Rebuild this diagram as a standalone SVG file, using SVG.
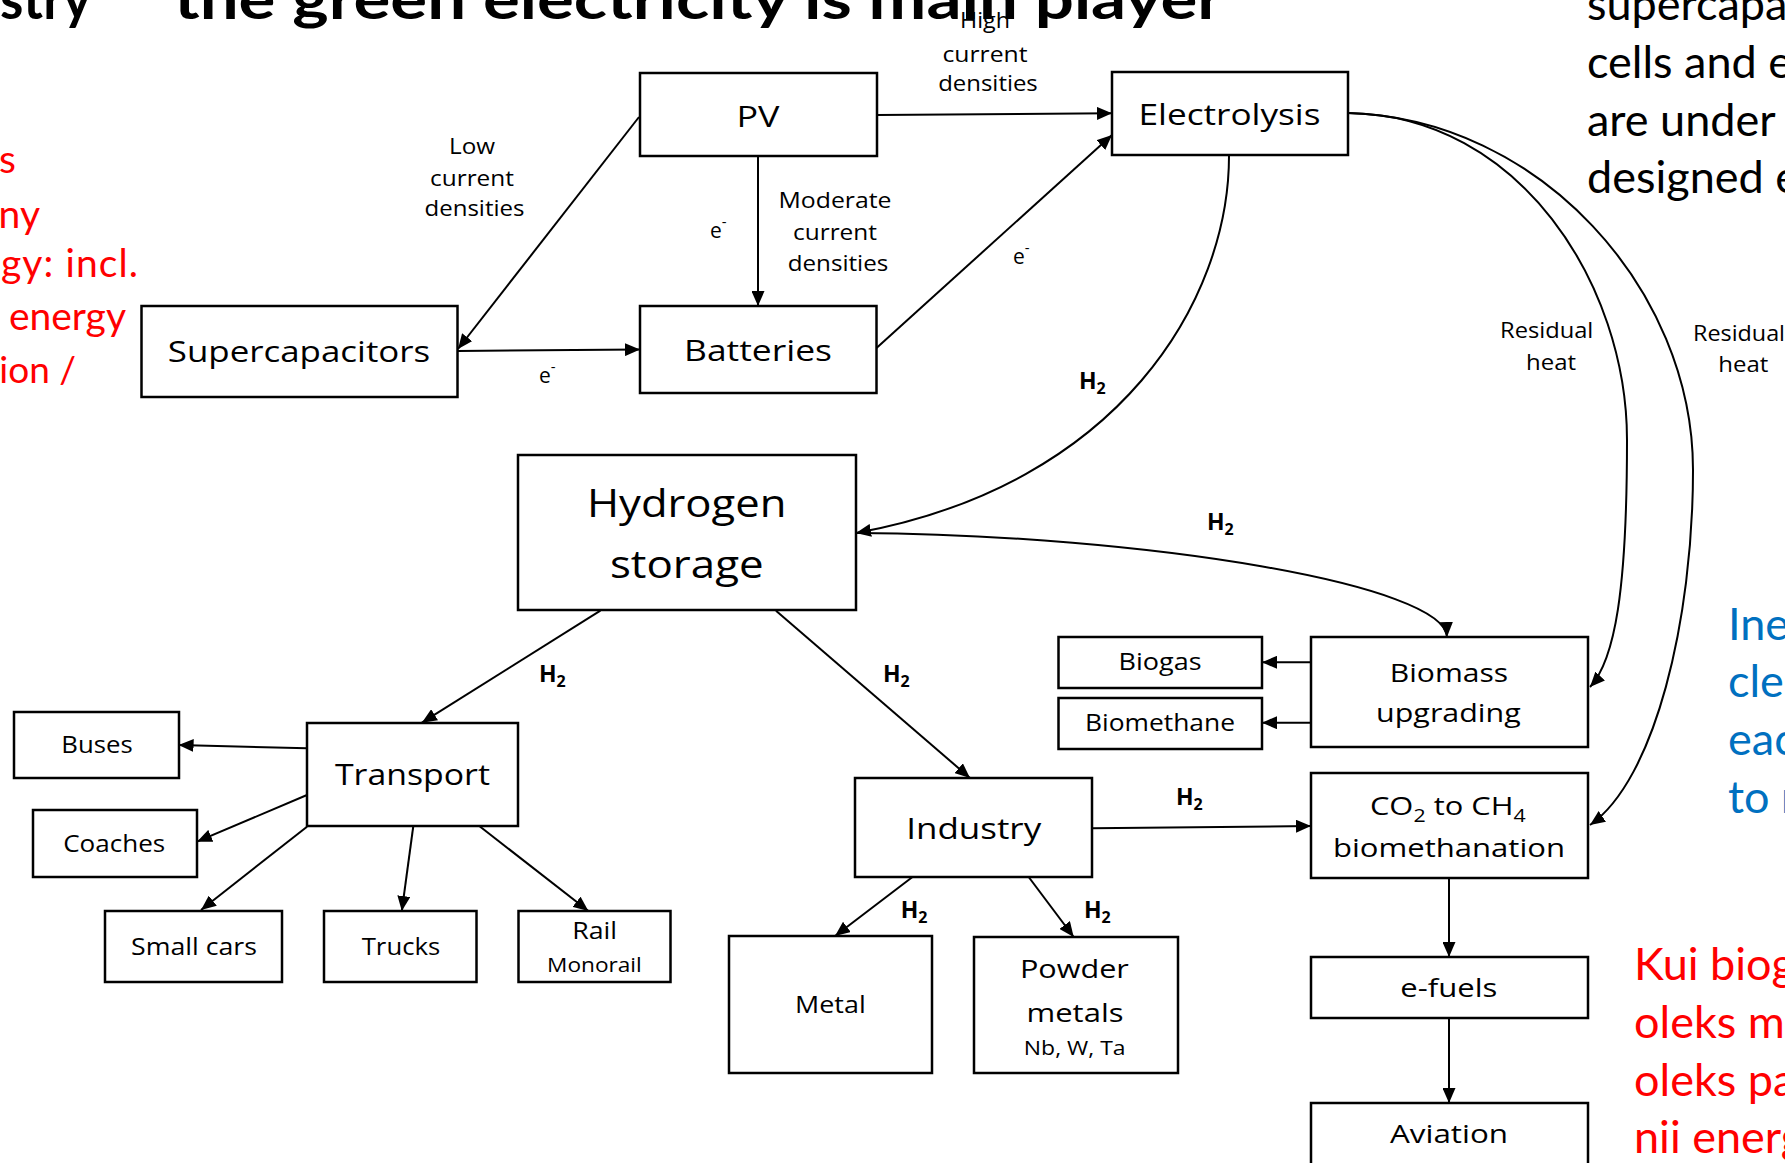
<svg xmlns="http://www.w3.org/2000/svg" width="1785" height="1163" viewBox="0 0 1785 1163">
<defs>
<style>
.box{fill:#fff;stroke:#000;stroke-width:2.5}
.ln{fill:none;stroke:#000;stroke-width:2}
.t{font-family:"Open Sans","Noto Sans",sans-serif;fill:#000;text-anchor:middle}
.f30{font-size:30px}.f26{font-size:26px}.f23{font-size:23px}.f20{font-size:20px}.f22{font-size:22px}.f39{font-size:39px}
.h2{font-family:"Open Sans","Noto Sans",sans-serif;font-weight:700;font-size:23px;fill:#000}
.el{font-family:"Open Sans","Noto Sans",sans-serif;font-size:21px;fill:#000}
.slide{font-family:Lato,"Liberation Sans",sans-serif;font-size:45px}
</style>
<marker id="ah" markerUnits="userSpaceOnUse" markerWidth="16" markerHeight="13" refX="15" refY="6.5" orient="auto" viewBox="0 0 16 13"><path d="M0,0 L15,6.5 L0,13 z" fill="#000"/></marker>
</defs>
<rect width="1785" height="1163" fill="#fff"/>

<g id="title">
<text x="0" y="19" font-family="Lato,'Liberation Sans',sans-serif" font-weight="700" font-size="56" textLength="91" lengthAdjust="spacingAndGlyphs">stry</text>
<text x="174" y="19" font-family="Lato,'Liberation Sans',sans-serif" font-weight="700" font-size="56" textLength="1049" lengthAdjust="spacingAndGlyphs">the green electricity is main player</text>
</g>

<g id="side-texts" class="slide">
<g fill="#FF0000" text-anchor="end" font-size="39">
<text x="16" y="173">s</text>
<text x="40" y="228">ny</text>
<text x="138" y="277" textLength="137" lengthAdjust="spacing">gy: incl.</text>
<text x="126" y="330">energy</text>
<text x="76" y="383" font-size="37">ion /</text>
</g>
<g fill="#000">
<text x="1587" y="20">supercapa</text>
<text x="1587" y="78">cells and e</text>
<text x="1587" y="136">are under</text>
<text x="1587" y="193">designed e</text>
</g>
<g fill="#0070C0">
<text x="1728" y="640">Ine</text>
<text x="1728" y="697">cle</text>
<text x="1728" y="755">eac</text>
<text x="1728" y="813">to r</text>
</g>
<g fill="#FF0000">
<text x="1634" y="980">Kui biog</text>
<text x="1634" y="1038">oleks m</text>
<text x="1634" y="1096">oleks pa</text>
<text x="1634" y="1153">nii energ</text>
</g>
</g>

<g id="connectors" class="ln">
<path d="M877,115 L1112,113.3" marker-end="url(#ah)"/>
<path d="M639,117 L458,349" marker-end="url(#ah)"/>
<path d="M457.6,351 L640,349.5" marker-end="url(#ah)"/>
<path d="M758,156 L758,306" marker-end="url(#ah)"/>
<path d="M876.5,348 L1112,135" marker-end="url(#ah)"/>
<path d="M1229,156 C1229,300 1120,485 856,533" marker-end="url(#ah)"/>
<path d="M857,533 C1150,535 1445,585 1447,637" marker-end="url(#ah)"/>
<path d="M1348,113 C1520,115 1627,285 1627,440 C1627,590 1615,660 1590,687" marker-end="url(#ah)"/>
<path d="M1348,113 C1540,118 1693,290 1693,470 C1693,620 1655,780 1590,825" marker-end="url(#ah)"/>
<path d="M600.4,610.7 L421.9,722.7" marker-end="url(#ah)"/>
<path d="M776,610.7 L970,778" marker-end="url(#ah)"/>
<path d="M307,748.3 L178.6,745" marker-end="url(#ah)"/>
<path d="M307,795 L197,841.7" marker-end="url(#ah)"/>
<path d="M307,826.7 L201,910" marker-end="url(#ah)"/>
<path d="M413.3,826 L401.8,911" marker-end="url(#ah)"/>
<path d="M479.3,826 L588.4,911" marker-end="url(#ah)"/>
<path d="M912.5,877 L835,936" marker-end="url(#ah)"/>
<path d="M1028.7,877 L1073.7,937" marker-end="url(#ah)"/>
<path d="M1092,828.3 L1311,826" marker-end="url(#ah)"/>
<path d="M1311,662.3 L1262,662.3" marker-end="url(#ah)"/>
<path d="M1311,722.7 L1262,722.7" marker-end="url(#ah)"/>
<path d="M1449,878 L1449,957" marker-end="url(#ah)"/>
<path d="M1449,1018 L1449,1103" marker-end="url(#ah)"/>
</g>

<g id="connector-labels">
<g class="t f22">
<text x="472" y="154" textLength="46" lengthAdjust="spacingAndGlyphs">Low</text>
<text x="472" y="186" textLength="84" lengthAdjust="spacingAndGlyphs">current</text>
<text x="474.5" y="216" textLength="100" lengthAdjust="spacingAndGlyphs">densities</text>
<text x="985" y="28.3" textLength="50" lengthAdjust="spacingAndGlyphs">High</text>
<text x="985" y="61.5" textLength="85" lengthAdjust="spacingAndGlyphs">current</text>
<text x="988" y="90.7" textLength="99.5" lengthAdjust="spacingAndGlyphs">densities</text>
<text x="835" y="208" textLength="113" lengthAdjust="spacingAndGlyphs">Moderate</text>
<text x="835" y="240" textLength="84" lengthAdjust="spacingAndGlyphs">current</text>
<text x="838" y="270.7" textLength="100.5" lengthAdjust="spacingAndGlyphs">densities</text>
<text x="1546.7" y="338.3" textLength="93.3" lengthAdjust="spacingAndGlyphs">Residual</text>
<text x="1551" y="370" textLength="50" lengthAdjust="spacingAndGlyphs">heat</text>
<text x="1739" y="340.7" textLength="92" lengthAdjust="spacingAndGlyphs">Residual</text>
<text x="1743.3" y="371.7" textLength="50" lengthAdjust="spacingAndGlyphs">heat</text>
</g>
<text class="el" x="710" y="238.3">e<tspan font-size="15" dy="-11">-</tspan></text>
<text class="el" x="1013" y="264">e<tspan font-size="15" dy="-11">-</tspan></text>
<text class="el" x="539" y="383">e<tspan font-size="15" dy="-11">-</tspan></text>
<text class="h2" x="1079" y="389">H<tspan font-size="16" dy="5">2</tspan></text>
<text class="h2" x="1207" y="530">H<tspan font-size="16" dy="5">2</tspan></text>
<text class="h2" x="539" y="681.7">H<tspan font-size="16" dy="5">2</tspan></text>
<text class="h2" x="883" y="681.7">H<tspan font-size="16" dy="5">2</tspan></text>
<text class="h2" x="1176" y="805">H<tspan font-size="16" dy="5">2</tspan></text>
<text class="h2" x="900.7" y="918.3">H<tspan font-size="16" dy="5">2</tspan></text>
<text class="h2" x="1084" y="918.3">H<tspan font-size="16" dy="5">2</tspan></text>
</g>

<g id="node-pv"><rect class="box" x="640" y="73" width="237" height="83"/><text class="t f30" x="758" y="126.7" textLength="43" lengthAdjust="spacingAndGlyphs">PV</text></g>
<g id="node-electrolysis"><rect class="box" x="1112" y="72" width="236" height="83"/><text class="t f30" x="1229.5" y="125" textLength="182" lengthAdjust="spacingAndGlyphs">Electrolysis</text></g>
<g id="node-batteries"><rect class="box" x="640" y="306" width="236.5" height="87"/><text class="t f30" x="758" y="361" textLength="148" lengthAdjust="spacingAndGlyphs">Batteries</text></g>
<g id="node-supercapacitors"><rect class="box" x="141.5" y="306" width="316" height="91"/><text class="t f30" x="299" y="361.7" textLength="262.5" lengthAdjust="spacingAndGlyphs">Supercapacitors</text></g>
<g id="node-hydrogen-storage"><rect class="box" x="518" y="455" width="338" height="155"/><text class="t f39" x="686.7" y="516.7" textLength="199.5" lengthAdjust="spacingAndGlyphs">Hydrogen</text><text class="t f39" x="686.8" y="578" textLength="153.7" lengthAdjust="spacingAndGlyphs">storage</text></g>
<g id="node-transport"><rect class="box" x="307" y="723" width="211" height="103"/><text class="t f30" x="412.5" y="785" textLength="155" lengthAdjust="spacingAndGlyphs">Transport</text></g>
<g id="node-buses"><rect class="box" x="14" y="712" width="165" height="66"/><text class="t f23" x="97" y="753.3" textLength="71.4" lengthAdjust="spacingAndGlyphs">Buses</text></g>
<g id="node-coaches"><rect class="box" x="33" y="810" width="164" height="67"/><text class="t f23" x="114.2" y="851.7" textLength="102" lengthAdjust="spacingAndGlyphs">Coaches</text></g>
<g id="node-small-cars"><rect class="box" x="105" y="911" width="177" height="71"/><text class="t f23" x="194" y="955" textLength="126" lengthAdjust="spacingAndGlyphs">Small cars</text></g>
<g id="node-trucks"><rect class="box" x="324" y="911" width="152.5" height="71"/><text class="t f23" x="401" y="955" textLength="78.6" lengthAdjust="spacingAndGlyphs">Trucks</text></g>
<g id="node-rail"><rect class="box" x="518.5" y="911" width="152" height="71"/><text class="t f23" x="594.7" y="939.3" textLength="44.8" lengthAdjust="spacingAndGlyphs">Rail</text><text class="t f20" x="594.4" y="971.7" textLength="94.7" lengthAdjust="spacingAndGlyphs">Monorail</text></g>
<g id="node-industry"><rect class="box" x="855" y="778" width="237" height="99"/><text class="t f30" x="973.7" y="839.3" textLength="135" lengthAdjust="spacingAndGlyphs">Industry</text></g>
<g id="node-metal"><rect class="box" x="729" y="936" width="203" height="137"/><text class="t f23" x="830.4" y="1013" textLength="70.6" lengthAdjust="spacingAndGlyphs">Metal</text></g>
<g id="node-powder-metals"><rect class="box" x="974" y="937" width="204" height="136"/><text class="t f26" x="1074.4" y="978.3" textLength="109" lengthAdjust="spacingAndGlyphs">Powder</text><text class="t f26" x="1075" y="1021.7" textLength="97" lengthAdjust="spacingAndGlyphs">metals</text><text class="t f20" x="1074.7" y="1055" textLength="101.7" lengthAdjust="spacingAndGlyphs">Nb, W, Ta</text></g>
<g id="node-biomass-upgrading"><rect class="box" x="1311" y="637" width="277" height="110"/><text class="t f26" x="1449" y="681.7" textLength="118.3" lengthAdjust="spacingAndGlyphs">Biomass</text><text class="t f26" x="1448.4" y="721.7" textLength="144.6" lengthAdjust="spacingAndGlyphs">upgrading</text></g>
<g id="node-biogas"><rect class="box" x="1058.5" y="637" width="203.5" height="51"/><text class="t f23" x="1160" y="670" textLength="83" lengthAdjust="spacingAndGlyphs">Biogas</text></g>
<g id="node-biomethane"><rect class="box" x="1058.5" y="698" width="203.5" height="51"/><text class="t f23" x="1160" y="730.7" textLength="150" lengthAdjust="spacingAndGlyphs">Biomethane</text></g>
<g id="node-co2-to-ch4"><rect class="box" x="1311" y="773" width="277" height="105"/><text class="t f26" x="1447.8" y="815" textLength="155.7" lengthAdjust="spacingAndGlyphs">CO<tspan font-size="18" dy="7">2</tspan><tspan dy="-7"> to CH</tspan><tspan font-size="18" dy="7">4</tspan></text><text class="t f26" x="1449" y="856.7" textLength="232" lengthAdjust="spacingAndGlyphs">biomethanation</text></g>
<g id="node-e-fuels"><rect class="box" x="1311" y="957" width="277" height="61"/><text class="t f26" x="1448.8" y="996.7" textLength="97" lengthAdjust="spacingAndGlyphs">e-fuels</text></g>
<g id="node-aviation"><rect class="box" x="1311" y="1103" width="277" height="80"/><text class="t f26" x="1449" y="1143.3" textLength="118" lengthAdjust="spacingAndGlyphs">Aviation</text></g>
</svg>
